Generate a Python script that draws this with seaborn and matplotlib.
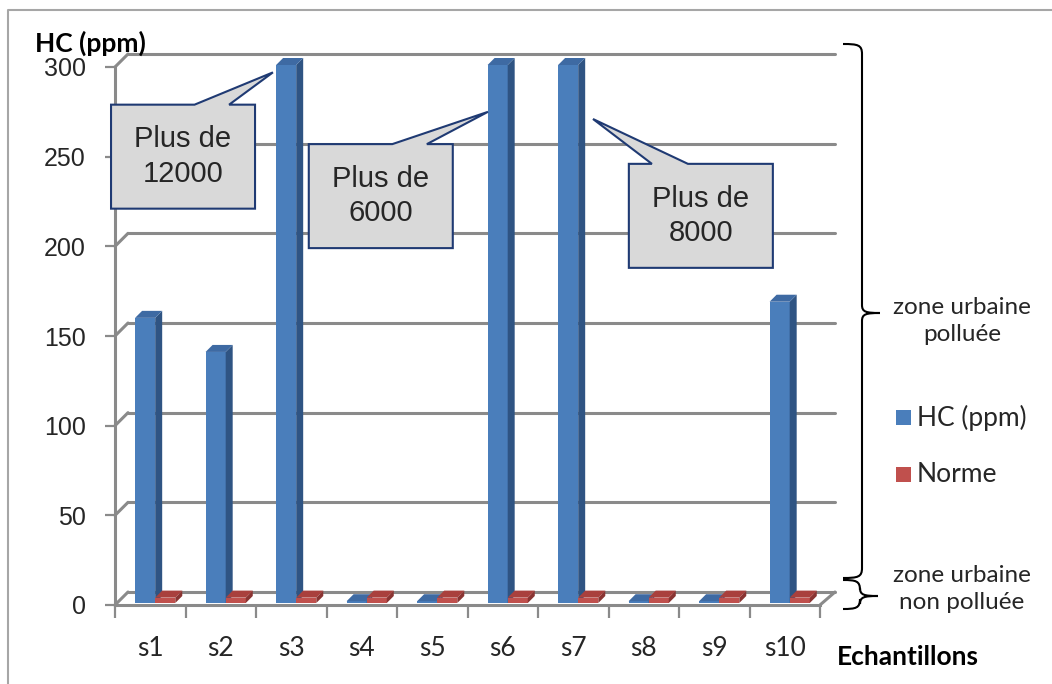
import numpy as np
import pandas as pd
import matplotlib
matplotlib.use("Agg")
import matplotlib.pyplot as plt
import matplotlib.transforms as mtransforms
from matplotlib.patches import Polygon, Rectangle, PathPatch
from matplotlib.lines import Line2D
from matplotlib.path import Path
import seaborn as sns

# ---- data -------------------------------------------------------------
echantillons = ["s1", "s2", "s3", "s4", "s5", "s6", "s7", "s8", "s9", "s10"]
hc_ppm = [159, 140, 12000, 1, 1, 6000, 8000, 1, 1, 168]
norme = [3, 3, 3, 3, 3, 3, 3, 3, 3, 3]
series = ["HC (ppm)", "Norme"]
y_ticks = [0, 50, 100, 150, 200, 250, 300]
Y_MAX = 300

df = pd.DataFrame({
    "echantillon": echantillons * 2,
    "serie": [series[0]] * len(echantillons) + [series[1]] * len(echantillons),
    "valeur": hc_ppm + norme,
})
# values above the axis maximum are drawn cut at the top of the axis
df["hauteur"] = np.minimum(df["valeur"], Y_MAX)

# ---- style ------------------------------------------------------------
BLUE, BLUE_SIDE, BLUE_TOP = "#4a7ebb", "#2f5483", "#3e6aa3"
RED, RED_SIDE, RED_TOP = "#c0504d", "#8a3432", "#a9403d"
GRID = "#8a8a8a"
W, H = 1052, 684
DEPTH_WALL = (13, 13)   # back-wall offset in pixels
DEPTH_BAR = (7, 7)      # bar depth in pixels
BAR_SHIFT = 0.07        # bars sit slightly behind the front edge

sns.set_theme(style="white")
plt.rcParams["font.family"] = ["Liberation Sans", "DejaVu Sans"]
SANS2 = ["Lato", "DejaVu Sans"]

fig = plt.figure(figsize=(W / 100, H / 100), dpi=100)
fig.patch.set_facecolor("white")
ax = fig.add_axes([115 / W, (H - 605) / H, 705 / W, 538 / H])
ax.patch.set_visible(False)

sns.barplot(data=df, x="echantillon", y="hauteur", hue="serie",
            order=echantillons, hue_order=series, palette=[BLUE, RED],
            width=0.57, saturation=1, legend=False, ax=ax,
            linewidth=0, zorder=3)

ax.set_xlim(-0.5, len(echantillons) - 0.5)
ax.set_ylim(0, Y_MAX)
ax.autoscale(False)
ax.set_xlabel("")
ax.set_ylabel("")

for s in ["top", "right"]:
    ax.spines[s].set_visible(False)
for s in ["left", "bottom"]:
    ax.spines[s].set_color(GRID)
    ax.spines[s].set_linewidth(2.2)

ax.set_yticks(y_ticks)
ax.set_yticklabels([str(t) for t in y_ticks], fontsize=18, color="#262626")
ax.tick_params(axis="y", length=7, width=1.6, color=GRID, pad=14, left=True)
ax.set_xticks(range(len(echantillons)))
ax.set_xticklabels(echantillons, fontsize=19, color="#262626", family=SANS2)
ax.set_xticks(np.arange(-0.5, len(echantillons)), minor=True)
ax.tick_params(axis="x", which="major", length=0, pad=22)
ax.tick_params(axis="x", which="minor", length=9, width=1.6, color=GRID,
               bottom=True)

ident = mtransforms.IdentityTransform()


def disp(x, y):
    return ax.transData.transform((x, y))


def add(artist):
    ax.add_artist(artist)
    artist.set_clip_on(False)
    return artist


# ---- back wall, left wall and floor -------------------------------------
dxw, dyw = DEPTH_WALL
x_left, _ = disp(-0.5, 0)
x_right, _ = disp(len(echantillons) - 0.5, 0)
for t in y_ticks:
    _, yy = disp(-0.5, t)
    add(Line2D([x_left + dxw, x_right + dxw + 2], [yy + dyw, yy + dyw],
               transform=ident, color=GRID, lw=2.2, zorder=1))
    add(Line2D([x_left, x_left + dxw], [yy, yy + dyw],
               transform=ident, color=GRID, lw=2.2, zorder=1))
_, y0 = disp(0, 0)
add(Line2D([x_right, x_right + dxw + 2], [y0, y0 + dyw],
           transform=ident, color=GRID, lw=2.2, zorder=1))

# ---- 3-D faces for every bar ------------------------------------------
dxb, dyb = DEPTH_BAR
lift = mtransforms.ScaledTranslation(0, 2 / 100, fig.dpi_scale_trans)
bars = sorted(ax.patches, key=lambda p: p.get_x())
for p in bars:
    p.set_x(p.get_x() + BAR_SHIFT)
    p.set_transform(ax.transData + lift)
    is_blue = np.allclose(p.get_facecolor()[:3], matplotlib.colors.to_rgb(BLUE))
    side_c, top_c = (BLUE_SIDE, BLUE_TOP) if is_blue else (RED_SIDE, RED_TOP)
    z = 3 if is_blue else 4
    p.set_zorder(z)
    p.set_clip_on(False)
    x0, x1 = p.get_x(), p.get_x() + p.get_width()
    h = p.get_height()
    (ax0, ay0), (ax1, ay1) = disp(x0, 0), disp(x1, h)
    ay0 += 2
    ay1 += 2
    side = [(ax1, ay0), (ax1, ay1), (ax1 + dxb, ay1 + dyb), (ax1 + dxb, ay0 + dyb)]
    top = [(ax0, ay1), (ax1, ay1), (ax1 + dxb, ay1 + dyb), (ax0 + dxb, ay1 + dyb)]
    add(Polygon(side, closed=True, transform=ident, facecolor=side_c,
                edgecolor="none", zorder=z))
    add(Polygon(top, closed=True, transform=ident, facecolor=top_c,
                edgecolor="none", zorder=z))

# ---- callouts for values beyond the axis -------------------------------
# (box centre x, box centre y, tip offset from category, tip value, pointer base fractions)
callout_layout = {
    "s3": (0.465, 250, -0.26, 297, (0.58, 0.82)),
    "s6": (3.27, 228, -0.21, 275, (0.58, 0.82)),
    "s7": (7.81, 217, 0.28, 271, (0.16, 0.41)),
}
BOX_W, BOX_H = 144, 104
for name, val in zip(echantillons, hc_ppm):
    if val <= Y_MAX:
        continue
    cx, cy, tip_dx, tip_v, (f1, f2) = callout_layout[name]
    px, py = disp(cx, cy)
    L, R = px - BOX_W / 2, px + BOX_W / 2
    B, T = py - BOX_H / 2, py + BOX_H / 2
    tx, ty = disp(echantillons.index(name) + tip_dx, tip_v)
    verts = [(L, B), (R, B), (R, T), (L + f2 * BOX_W, T), (tx, ty),
             (L + f1 * BOX_W, T), (L, T)]
    add(Polygon(verts, closed=True, transform=ident, facecolor="#d9d9d9",
                edgecolor="#1f3a73", lw=1.5, zorder=6))
    add(plt.Text(px, py, f"Plus de\n{val}", transform=ident, ha="center",
                 va="center", fontsize=21, color="#262626", linespacing=1.3,
                 zorder=7))

# ---- axis titles ---------------------------------------------------------
fig.text(35 / W, 1 - 43 / H, "HC (ppm)", fontsize=19, fontweight="bold",
         family=SANS2, ha="left", va="center", color="black")
fig.text(837 / W, 1 - 657 / H, "Echantillons", fontsize=19, fontweight="bold",
         family=SANS2, ha="left", va="center", color="black")


# ---- braces and zone labels -------------------------------------------
def brace(x_end, x_mid, y_top, y_bot, y_tip, x_tip):
    def f(x, y):
        return (x / W, 1 - y / H)
    verts = [f(x_end, y_top),
             f(x_mid - 4, y_top), f(x_mid, y_top + 1), f(x_mid, y_top + 10),
             f(x_mid, y_tip - 8),
             f(x_mid, y_tip - 1), f(x_mid + 4, y_tip), f(x_tip, y_tip),
             f(x_tip, y_tip),
             f(x_mid + 4, y_tip), f(x_mid, y_tip + 1), f(x_mid, y_tip + 8),
             f(x_mid, y_bot - 10),
             f(x_mid, y_bot - 1), f(x_mid - 4, y_bot), f(x_end, y_bot)]
    codes = ([Path.MOVETO] + [Path.CURVE4] * 3 + [Path.LINETO] + [Path.CURVE4] * 3
             + [Path.MOVETO] + [Path.CURVE4] * 3 + [Path.LINETO] + [Path.CURVE4] * 3)
    fig.add_artist(PathPatch(Path(verts, codes), transform=fig.transFigure,
                             facecolor="none", edgecolor="black", lw=1.5))


brace(843, 862, 44, 578, 313, 880)
brace(843, 860, 580, 609, 596, 878)

zone_kw = dict(ha="center", va="center", fontsize=17.5, family=SANS2,
               color="#262626", linespacing=1.3)
fig.text(962 / W, 1 - 321 / H, "zone urbaine\npolluée", **zone_kw)
fig.text(962 / W, 1 - 589 / H, "zone urbaine\nnon polluée", **zone_kw)

# ---- legend ----------------------------------------------------------------
for label, color, yc in zip(series, [BLUE, RED], [418, 475]):
    fig.add_artist(Rectangle((896 / W, 1 - (yc + 7) / H), 15 / W, 15 / H,
                             transform=fig.transFigure, facecolor=color,
                             edgecolor="none"))
    fig.text(917 / W, 1 - yc / H, label, fontsize=19, family=SANS2,
             ha="left", va="center", color="#262626")

# ---- outer frame -----------------------------------------------------------
fig.add_artist(Line2D([8 / W, 8 / W, 1], [0, 1 - 10 / H, 1 - 10 / H],
                      transform=fig.transFigure, color="#a6a6a6", lw=1.5))

fig.savefig("out.png", dpi=100)
